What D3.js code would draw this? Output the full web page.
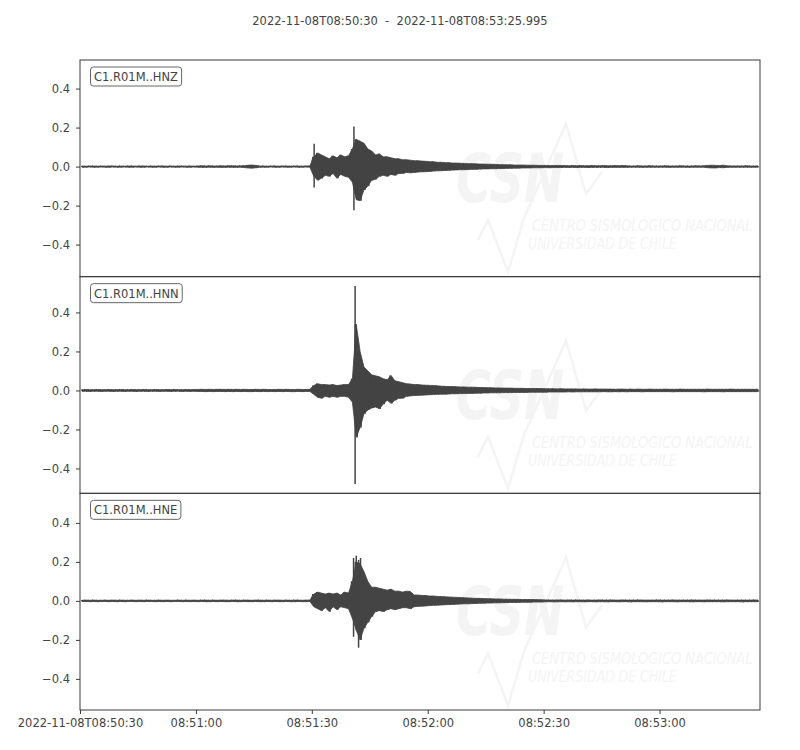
<!DOCTYPE html>
<html><head><meta charset="utf-8">
<script src="https://cdn.jsdelivr.net/npm/d3@7"></script>
<style>body{margin:0;background:#fff} text{font-family:"DejaVu Sans",sans-serif}</style>
</head><body><svg id="c" width="800" height="750"></svg>
<script>
const titleText = "2022-11-08T08:50:30  -  2022-11-08T08:53:25.995";
const channels = ["C1.R01M..HNZ", "C1.R01M..HNN", "C1.R01M..HNE"];
const duration = 175.995;
const tickTimes = [0, 30, 60, 90, 120, 150];
const tickLabels = ["2022-11-08T08:50:30", "08:51:00", "08:51:30", "08:52:00", "08:52:30", "08:53:00"];
const yTicks = [-0.4, -0.2, 0, 0.2, 0.4];

// per-second body envelope (max / min), t = 0..175 s
const hnzMax = [
.003,.002,.003,.003,.002,.003,.002,.003,.003,.002,
.003,.002,.003,.003,.002,.003,.003,.002,.003,.002,
.003,.003,.002,.003,.002,.003,.003,.002,.003,.002,
.003,.004,.003,.004,.003,.003,.004,.003,.004,.004,
.003,.004,.004,.007,.008,.006,.003,.003,.002,.003,
.003,.002,.003,.003,.002,.003,.003,.002,.003,.003,
.05,.07,.06,.05,.04,.055,.045,.06,.05,.055,
.09,.14,.13,.12,.09,.08,.06,.065,.05,.05,
.045,.04,.04,.035,.035,.033,.03,.03,.028,.027,
.025,.025,.022,.022,.02,.02,.018,.018,.017,.016,
.015,.015,.014,.013,.013,.012,.012,.011,.01,.01,
.009,.009,.008,.008,.008,.007,.007,.007,.006,.006,
.006,.005,.005,.006,.005,.005,.004,.005,.004,.005,
.004,.004,.005,.004,.004,.005,.004,.004,.005,.004,
.005,.004,.003,.003,.004,.003,.003,.004,.003,.003,
.003,.004,.003,.003,.003,.004,.003,.003,.003,.004,
.003,.004,.006,.007,.006,.005,.007,.004,.003,.003,
.003,.003,.004,.003,.003,.003];
const hnzMin = [
-.003,-.003,-.002,-.003,-.003,-.002,-.003,-.003,-.002,-.003,
-.003,-.002,-.003,-.003,-.002,-.003,-.003,-.002,-.003,-.003,
-.002,-.003,-.003,-.002,-.003,-.003,-.002,-.003,-.003,-.002,
-.003,-.004,-.004,-.003,-.004,-.003,-.004,-.004,-.003,-.004,
-.004,-.003,-.005,-.007,-.008,-.006,-.003,-.003,-.003,-.002,
-.003,-.003,-.002,-.003,-.003,-.002,-.003,-.003,-.002,-.003,
-.05,-.07,-.06,-.045,-.05,-.035,-.06,-.04,-.05,-.055,
-.08,-.17,-.175,-.12,-.1,-.07,-.065,-.05,-.045,-.05,
-.04,-.045,-.035,-.035,-.03,-.032,-.03,-.028,-.027,-.026,
-.025,-.023,-.022,-.021,-.02,-.019,-.018,-.017,-.016,-.016,
-.015,-.014,-.014,-.013,-.012,-.012,-.011,-.011,-.01,-.01,
-.009,-.009,-.008,-.008,-.007,-.007,-.007,-.006,-.006,-.006,
-.005,-.006,-.005,-.005,-.005,-.004,-.005,-.004,-.005,-.004,
-.004,-.005,-.004,-.004,-.004,-.004,-.005,-.004,-.004,-.004,
-.004,-.004,-.003,-.003,-.003,-.004,-.003,-.003,-.003,-.003,
-.003,-.003,-.004,-.003,-.003,-.003,-.003,-.004,-.003,-.003,
-.003,-.003,-.006,-.007,-.007,-.005,-.006,-.004,-.003,-.003,
-.003,-.003,-.003,-.003,-.003,-.003];
// isolated spikes [time s, max, min]
const hnzSpikes = [[60.6, 0.117, -0.107], [70.9, 0.206, -0.224]];

const hnnMax = [
.004,.005,.004,.004,.005,.004,.004,.005,.004,.004,
.005,.004,.004,.005,.004,.004,.005,.004,.004,.005,
.004,.004,.005,.004,.005,.004,.004,.005,.004,.005,
.005,.006,.005,.006,.005,.006,.006,.005,.006,.005,
.006,.005,.006,.005,.005,.006,.005,.006,.005,.005,
.005,.006,.005,.006,.005,.005,.006,.005,.005,.006,
.025,.035,.03,.03,.028,.03,.025,.028,.03,.03,
.06,.34,.2,.12,.1,.08,.075,.07,.06,.055,
.077,.05,.045,.04,.035,.033,.03,.03,.028,.027,
.026,.025,.024,.022,.021,.02,.02,.019,.018,.018,
.017,.017,.016,.015,.015,.014,.014,.013,.013,.012,
.012,.012,.011,.011,.011,.01,.01,.01,.01,.01,
.009,.009,.009,.008,.009,.008,.008,.008,.008,.007,
.008,.007,.007,.008,.007,.007,.007,.007,.006,.007,
.007,.006,.007,.006,.007,.006,.006,.007,.006,.006,
.006,.007,.006,.006,.006,.007,.006,.006,.006,.006,
.006,.006,.007,.006,.006,.006,.006,.006,.007,.006,
.006,.006,.006,.006,.006,.006];
const hnnMin = [
-.004,-.004,-.005,-.004,-.004,-.005,-.004,-.004,-.005,-.004,
-.004,-.005,-.004,-.004,-.005,-.004,-.004,-.005,-.004,-.004,
-.005,-.004,-.004,-.005,-.004,-.004,-.005,-.004,-.005,-.004,
-.005,-.005,-.006,-.005,-.006,-.005,-.005,-.006,-.005,-.006,
-.005,-.006,-.005,-.006,-.006,-.005,-.006,-.005,-.006,-.005,
-.006,-.005,-.006,-.005,-.006,-.006,-.005,-.006,-.005,-.005,
-.02,-.035,-.04,-.03,-.035,-.03,-.035,-.03,-.03,-.035,
-.06,-.24,-.19,-.12,-.1,-.09,-.085,-.094,-.07,-.05,
-.066,-.05,-.04,-.04,-.03,-.028,-.026,-.025,-.024,-.023,
-.022,-.021,-.02,-.019,-.019,-.018,-.017,-.017,-.016,-.016,
-.015,-.015,-.014,-.014,-.013,-.013,-.012,-.012,-.012,-.011,
-.011,-.011,-.01,-.01,-.01,-.01,-.009,-.009,-.009,-.009,
-.009,-.008,-.008,-.008,-.008,-.008,-.007,-.008,-.007,-.007,
-.007,-.007,-.007,-.007,-.007,-.006,-.007,-.007,-.006,-.007,
-.006,-.007,-.006,-.006,-.006,-.007,-.006,-.006,-.006,-.006,
-.006,-.006,-.006,-.007,-.006,-.006,-.006,-.006,-.006,-.006,
-.006,-.007,-.006,-.006,-.006,-.006,-.007,-.006,-.006,-.006,
-.006,-.006,-.006,-.006,-.006,-.006];
const hnnSpikes = [[71.2, 0.536, -0.48]];

const hneMax = [
.003,.004,.003,.004,.003,.003,.004,.003,.004,.003,
.004,.003,.003,.004,.003,.004,.003,.004,.003,.003,
.004,.003,.004,.003,.003,.004,.003,.004,.003,.004,
.003,.004,.004,.003,.004,.003,.004,.004,.003,.004,
.004,.003,.004,.004,.003,.004,.004,.003,.004,.003,
.004,.004,.003,.004,.003,.004,.004,.003,.004,.004,
.035,.045,.04,.035,.04,.035,.04,.03,.045,.04,
.1,.2,.19,.15,.1,.07,.07,.065,.06,.055,
.06,.05,.05,.045,.05,.048,.03,.03,.028,.027,
.025,.025,.023,.022,.021,.02,.019,.018,.017,.016,
.015,.014,.013,.013,.012,.011,.011,.01,.01,.009,
.009,.008,.008,.008,.007,.007,.007,.007,.006,.006,
.005,.005,.004,.005,.005,.004,.005,.004,.005,.004,
.004,.005,.004,.004,.005,.004,.004,.005,.004,.004,
.005,.004,.004,.004,.005,.004,.004,.004,.004,.005,
.004,.004,.004,.005,.004,.004,.004,.004,.005,.004,
.004,.004,.005,.004,.004,.004,.004,.005,.004,.004,
.004,.004,.004,.004,.005,.004];
const hneMin = [
-.003,-.003,-.004,-.003,-.004,-.003,-.003,-.004,-.003,-.004,
-.003,-.004,-.003,-.003,-.004,-.003,-.004,-.003,-.003,-.004,
-.003,-.004,-.003,-.004,-.003,-.003,-.004,-.003,-.004,-.003,
-.004,-.003,-.004,-.004,-.003,-.004,-.003,-.004,-.004,-.003,
-.004,-.004,-.003,-.004,-.004,-.003,-.004,-.004,-.003,-.004,
-.003,-.004,-.004,-.003,-.004,-.004,-.003,-.004,-.004,-.003,
-.03,-.04,-.05,-.035,-.055,-.03,-.045,-.03,-.035,-.04,
-.09,-.15,-.2,-.14,-.11,-.08,-.055,-.05,-.055,-.045,
-.04,-.045,-.04,-.035,-.035,-.04,-.03,-.028,-.027,-.026,
-.024,-.023,-.022,-.021,-.02,-.019,-.018,-.017,-.016,-.015,
-.015,-.014,-.013,-.012,-.012,-.011,-.011,-.01,-.01,-.009,
-.009,-.008,-.008,-.008,-.007,-.007,-.007,-.006,-.006,-.006,
-.005,-.004,-.005,-.005,-.004,-.005,-.004,-.005,-.004,-.004,
-.005,-.004,-.004,-.005,-.004,-.004,-.005,-.004,-.004,-.005,
-.004,-.004,-.005,-.004,-.004,-.004,-.005,-.004,-.004,-.004,
-.005,-.004,-.004,-.004,-.005,-.004,-.004,-.004,-.005,-.004,
-.004,-.005,-.004,-.004,-.004,-.004,-.005,-.004,-.004,-.004,
-.004,-.005,-.004,-.004,-.004,-.004];
const hneSpikes = [[70.8, 0.22, -0.184], [71.5, 0.232, -0.15], [72.1, 0.21, -0.24], [72.6, 0.22, -0.2]];

const series = [
  {name: channels[0], max: hnzMax, min: hnzMin, spikes: hnzSpikes},
  {name: channels[1], max: hnnMax, min: hnnMin, spikes: hnnSpikes},
  {name: channels[2], max: hneMax, min: hneMin, spikes: hneSpikes}
];

const plotLeft = 80, plotRight = 760, plotTop = 60, plotBottom = 710;
const panelH = (plotBottom - plotTop) / series.length;
const textColor = "#444", lineColor = "#444", frameColor = "#3a3a3a", fs = "11.5px";

const svg = d3.select("#c");
svg.append("text").attr("x", 400).attr("y", 25).attr("text-anchor", "middle")
  .style("white-space", "pre").attr("font-size", fs).attr("fill", textColor).text(titleText);

const x = d3.scaleLinear().domain([0, duration]).range([plotLeft, plotRight]);

const fullMax = s => Math.max(d3.max(s.max), d3.max(s.spikes, d => d[1]));
const fullMin = s => Math.min(d3.min(s.min), d3.min(s.spikes, d => d[2]));
const yRange = d3.max(series, s => fullMax(s) - fullMin(s)) * 1.0935;

series.forEach((s, i) => {
  const y0 = plotTop + i * panelH, y1 = y0 + panelH;
  const mid = (fullMax(s) + fullMin(s)) / 2;
  const y = d3.scaleLinear().domain([mid - yRange / 2, mid + yRange / 2]).range([y1, y0]);

  const g = svg.append("g");
  const clipId = "clip" + i;
  svg.append("clipPath").attr("id", clipId).append("rect")
    .attr("x", plotLeft).attr("y", y0).attr("width", plotRight - plotLeft).attr("height", panelH);

  // faint watermark
  const wm = g.append("g").attr("transform", `translate(${plotLeft},${y0})`);
  const wmc = "#f4f4f4";
  wm.append("path").attr("d", "M398,180 L408,160 L428,212 L444,158 L486,64 L506,134 L522,112")
    .attr("fill", "none").attr("stroke", wmc).attr("stroke-width", 2.5);
  wm.append("g").attr("transform", "translate(376,142) scale(1,1.4)")
    .append("text").attr("font-size", "48px").attr("font-weight", "bold")
    .attr("font-style", "italic").attr("fill", wmc).text("CSN");
  wm.append("g").attr("transform", "translate(452,171) scale(1,1.25)")
    .append("text").attr("font-size", "12.9px").attr("font-style", "italic")
    .attr("fill", wmc).text("CENTRO SISMOLÓGICO NACIONAL");
  wm.append("g").attr("transform", "translate(448,189) scale(1,1.25)")
    .append("text").attr("font-size", "12.5px").attr("font-style", "italic")
    .attr("fill", wmc).text("UNIVERSIDAD DE CHILE");

  const wave = g.append("g").attr("clip-path", `url(#${clipId})`);
  // body envelope
  wave.append("path").datum(s.max.map((v, k) => [k + 0.5, v, s.min[k]]))
    .attr("d", d3.area().x(d => x(d[0])).y0(d => y(d[2])).y1(d => y(d[1])))
    .attr("fill", lineColor).attr("stroke", lineColor).attr("stroke-width", 0.8);
  // oscillation texture: alternating max/min
  const pts = [];
  s.max.forEach((v, k) => { pts.push([k + 0.25, v]); pts.push([k + 0.75, s.min[k]]); });
  wave.append("path").datum(pts)
    .attr("d", d3.line().x(d => x(d[0])).y(d => y(d[1])))
    .attr("fill", "none").attr("stroke", lineColor).attr("stroke-width", 1);
  // isolated spikes
  wave.selectAll("line.spike").data(s.spikes).join("line").attr("class", "spike")
    .attr("x1", d => x(d[0])).attr("x2", d => x(d[0]))
    .attr("y1", d => y(d[1])).attr("y2", d => y(d[2]))
    .attr("stroke", lineColor).attr("stroke-width", 1.5);

  // frame
  g.append("rect").attr("x", plotLeft).attr("y", y0).attr("width", plotRight - plotLeft).attr("height", panelH)
    .attr("fill", "none").attr("stroke", frameColor).attr("stroke-width", 1);

  // y axis
  const ya = g.append("g").attr("transform", `translate(${plotLeft},0)`)
    .call(d3.axisLeft(y).tickValues(yTicks).tickSize(4).tickPadding(6).tickFormat(d3.format(".1f")));
  ya.select(".domain").remove();
  ya.selectAll("line").attr("stroke", frameColor);
  ya.selectAll("text").attr("font-size", fs).attr("fill", textColor).attr("font-family", "DejaVu Sans");

  // label box
  const lb = g.append("g");
  const t = lb.append("text").attr("x", plotLeft + 14).attr("y", y0 + 21).attr("font-size", fs)
    .attr("fill", textColor).text(s.name);
  const bb = t.node().getBBox();
  lb.insert("rect", "text").attr("x", bb.x - 3.5).attr("y", y0 + 7).attr("width", bb.width + 7).attr("height", 19)
    .attr("rx", 3).attr("fill", "#fff").attr("stroke", "#666").attr("stroke-width", 1);

  if (i === series.length - 1) {
    const xa = g.append("g").attr("transform", `translate(0,${y1})`)
      .call(d3.axisBottom(x).tickValues(tickTimes).tickSize(4).tickPadding(5).tickFormat((d, k) => tickLabels[k]));
    xa.select(".domain").remove();
    xa.selectAll("line").attr("stroke", frameColor);
    xa.selectAll("text").attr("font-size", fs).attr("fill", textColor).attr("font-family", "DejaVu Sans");
  }
});
</script></body></html>
